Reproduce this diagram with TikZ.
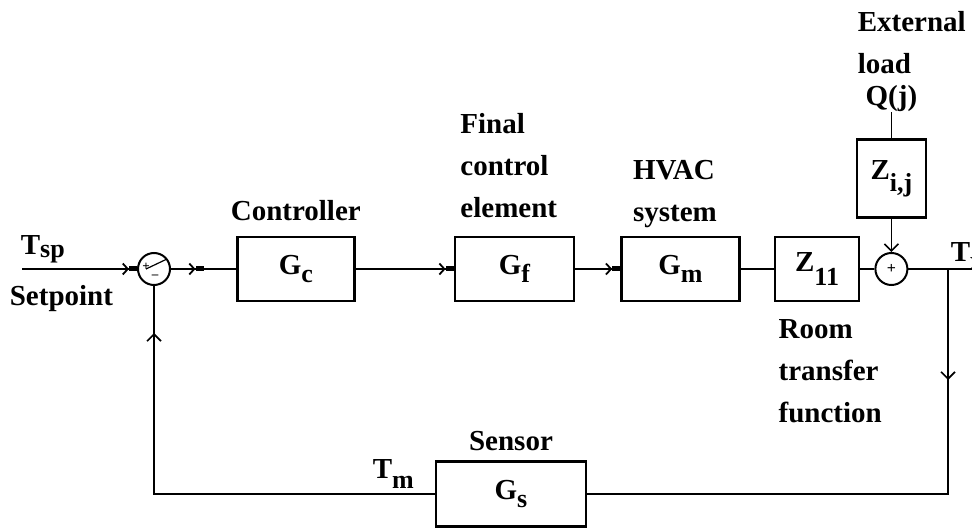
\documentclass[tikz,border=0pt]{standalone}
\usepackage{fontspec}
\setmainfont{Liberation Serif}
\usepackage{tikz}
\usetikzlibrary{arrows.meta, positioning, decorations.markings}
\newcommand{\dn}[2][8pt]{\raisebox{-#1}{\fontsize{26}{26}\selectfont #2}}
\tikzset{
  blk/.style  = {rectangle, draw, line width=2.6pt, minimum width=#1,
                 minimum height=64pt, inner sep=0pt,
                 font=\fontsize{29}{42}\selectfont\bfseries},
  blk/.default = 118pt,
  sumj/.style = {circle, draw, line width=2pt, minimum size=32pt, inner sep=0pt},
  lbl/.style  = {inner sep=0pt, align=left,
                 font=\fontsize{29}{42}\selectfont\bfseries},
  sgn/.style  = {inner sep=0pt, font=\fontsize{13}{13}\selectfont\bfseries},
  arr/.style  = {-{Straight Barb[length=5pt, width=11pt, line width=1.8pt]
                   Rectangle[length=8pt, width=5pt]}},
  varr/.style = {-{Straight Barb[length=7pt, width=14pt, line width=1.6pt]}},
  midarr/.style = {postaction={decorate}, decoration={markings,
                 mark=at position #1 with
                 {\arrow{Straight Barb[length=5pt, width=11pt, line width=1.8pt]
                   Rectangle[length=8pt, width=5pt]}}}},
  vmidarr/.style = {postaction={decorate}, decoration={markings,
                 mark=at position #1 with
                 {\arrow{Straight Barb[length=7pt, width=14pt, line width=1.6pt]}}}},
}
\begin{document}
\begin{tikzpicture}[x=1pt, y=-1pt, line width=1.7pt]
  \useasboundingbox (0,0) rectangle (972,529);

  \node[sumj] (s1) at (154,269) {};
  \node[blk=117pt, right=65pt of s1] (gc)  {G\dn{c}};
  \node[blk=119pt, right=98pt of gc] (gf)  {G\dn{f}};
  \node[blk=118pt, right=45pt of gf] (gm)  {G\dn{m}};
  \node[blk=84pt,  right=33pt of gm] (z11) {Z\dn[14pt]{11}};
  \node[sumj, right=14pt of z11]     (s2)  {};
  \node[blk=69pt, minimum height=78pt, above=33pt of s2] (zij) {Z\dn[12pt]{i,j}};
  \node[blk=150pt, minimum height=65pt] (gs) at (511,494) {G\dn{s}};

  \coordinate (in)  at (22,269);
  \coordinate (br)  at (948,269);
  \coordinate (out) at (985,269);

  % signs in the junctions
  \node[sgn] (p1) at ([xshift=-8pt, yshift=2pt]s1.center) {+};
  \node[sgn] (m1) at ([xshift=1pt, yshift=-8pt]s1.center) {\textendash};
  \draw[line width=1.2pt] ([xshift=-8pt]s1.center) -- ([xshift=13pt, yshift=10pt]s1.center);
  \node[sgn, font=\fontsize{16}{16}\selectfont\bfseries] (p2) at (s2.center) {+};

  \draw[arr] (in) -- (s1);
  \draw[midarr=0.5] (s1) -- (gc);
  \draw[arr] (gc) -- (gf);
  \draw[arr] (gf) -- (gm);
  \draw (gm)  -- (z11);
  \draw (z11) -- (s2);
  \draw[varr] (zij) -- (s2);
  \draw (s2) -- (out);
  \draw[line width=2.2pt, vmidarr=111pt] (br) |- (gs);
  \draw[line width=2.2pt, vmidarr=-47pt] (gs) -| (s1);

  \node[lbl, above=14pt of gc] (lctl) {Controller};
  \node[lbl, anchor=south west] (lfce)
        at ([xshift=6pt, yshift=17pt]gf.north west) {Final\\control\\element};
  \node[lbl, anchor=south west] (lhvac)
        at ([xshift=12pt, yshift=7pt]gm.north west) {HVAC\\system};
  \node[lbl, anchor=north west] (lroom)
        at ([xshift=4pt, yshift=-16pt]z11.south west) {Room\\transfer\\function};
  \node[lbl, above=26pt of zij] (qj) {Q(j)};
  \draw (qj) -- (zij);
  \node[lbl, anchor=south west] (lext) at (857,75) {External\\load};
  \node[lbl, anchor=base west] (tsp) at (20,255) {T\dn[3pt]{sp}};
  \node[lbl, anchor=base west] (lsp) at (9,306) {Setpoint};
  \node[lbl, above=9pt of gs] (lsen) {Sensor};
  \node[lbl, anchor=base west] (tm) at (372,478) {T\dn[10pt]{m}};
  \node[lbl, anchor=base west] (tx) at (950,262) {T\dn{x}};

\end{tikzpicture}
\end{document}
